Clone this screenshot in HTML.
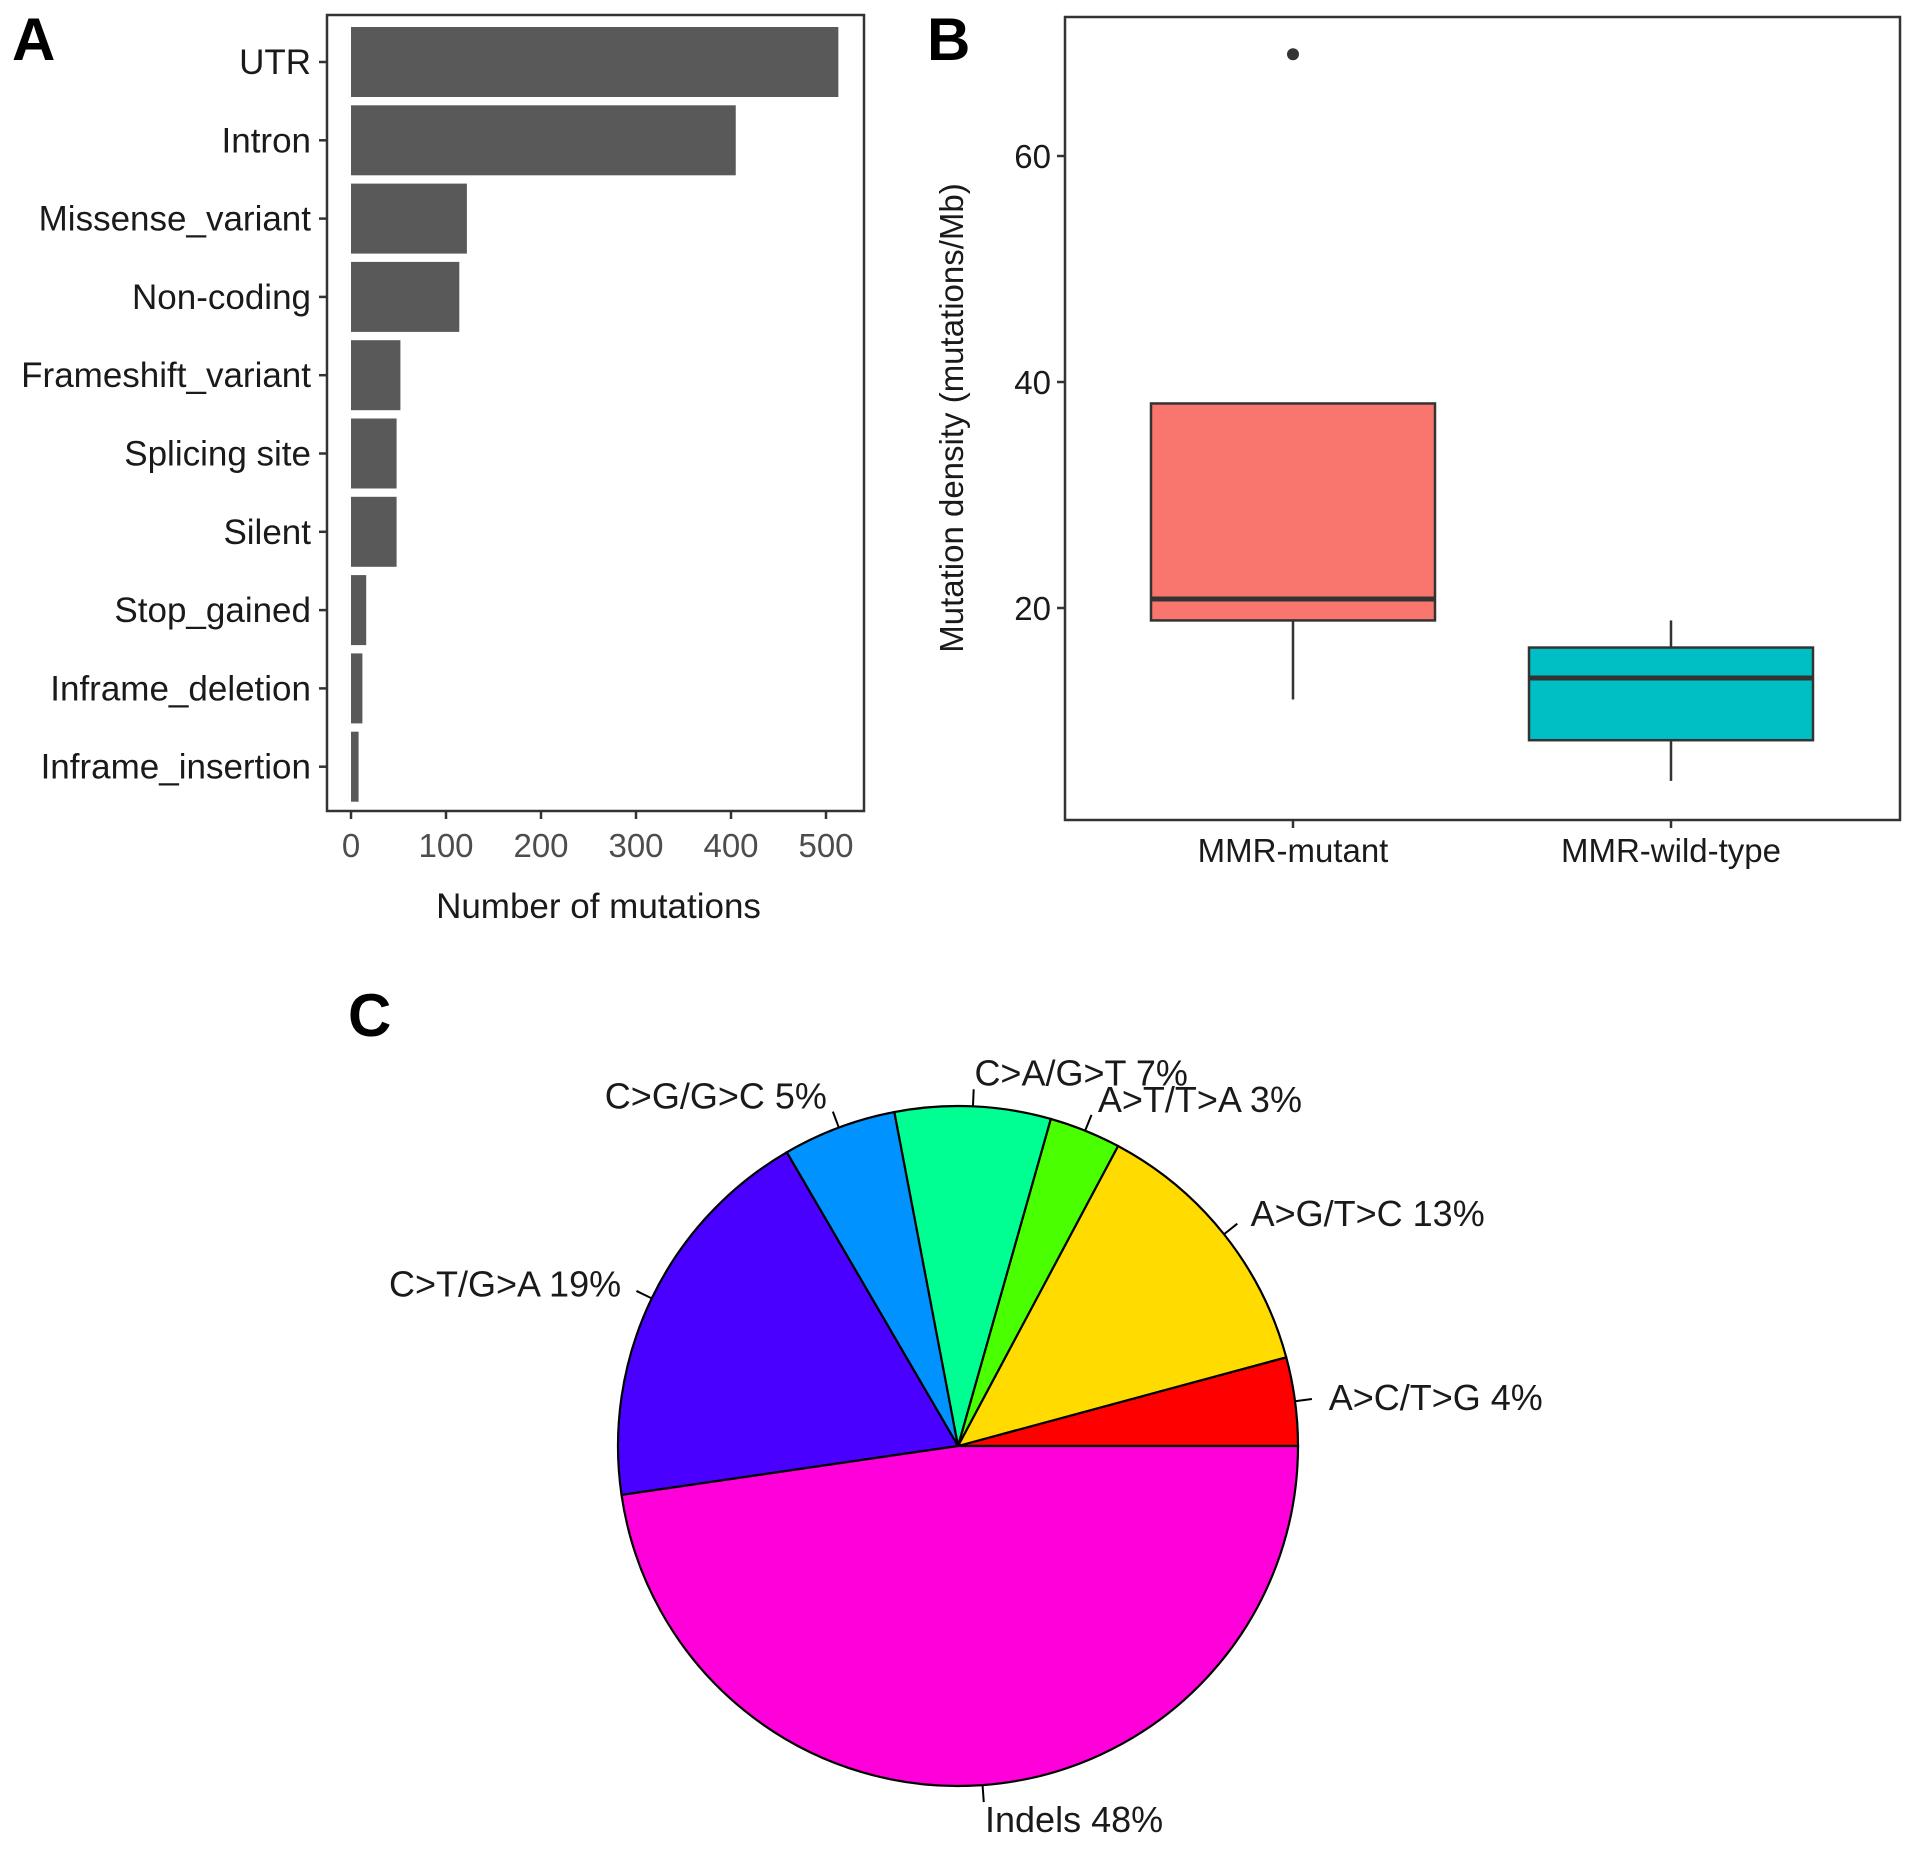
<!DOCTYPE html>
<html><head><meta charset="utf-8"><style>
html,body{margin:0;padding:0;background:#fff;}
svg{display:block;font-family:"Liberation Sans",sans-serif;}
</style></head><body>
<svg id="fig" width="1913" height="1851" viewBox="0 0 1913 1851" xmlns="http://www.w3.org/2000/svg">
<text x="12" y="60" font-size="60" font-weight="bold" fill="#000">A</text>
<text x="927" y="60" font-size="60" font-weight="bold" fill="#000">B</text>
<text x="348" y="1036" font-size="60" font-weight="bold" fill="#000">C</text>
<g id="barA"></g>
<g id="boxB"></g>
<g id="pieC"></g>
</svg>
<script>
const barCategories=["UTR","Intron","Missense_variant","Non-coding","Frameshift_variant","Splicing site","Silent","Stop_gained","Inframe_deletion","Inframe_insertion"];
const barValues=[513,405,122,114,52,48,48,16,12,8];
const barTicks=[0,100,200,300,400,500];

const boxGroups=["MMR-mutant","MMR-wild-type"];
const boxLower=[11.9,4.7];
const boxQ1=[18.9,8.3];
const boxMedian=[20.8,13.8];
const boxQ3=[38.1,16.5];
const boxUpper=[18.9,18.9];
const boxOutliers=[[69],[]];
const boxColors=["#F8766D","#00BFC4"];
const boxTicks=[20,40,60];

const pieLabels=["A>C/T>G 4%","A>G/T>C 13%","A>T/T>A 3%","C>A/G>T 7%","C>G/G>C 5%","C>T/G>A 19%","Indels 48%"];
const pieValues=[4.2,13,3.4,7.4,5.4,18.9,47.7];
const pieColors=["#FF0000","#FFDB00","#49FF00","#00FF92","#0092FF","#4900FF","#FF00DB"];

const NS="http://www.w3.org/2000/svg";
function mk(parent,tag,attrs,text){const e=document.createElementNS(NS,tag);for(const k in attrs)e.setAttribute(k,attrs[k]);if(text!==undefined)e.textContent=text;parent.appendChild(e);return e;}

// Panel A
(function(){
const g=document.getElementById('barA');
const L=327,R=864,T=15,B=811;
const x=v=>351+v*(826-351)/500;
const yc=i=>62+i*78.3;
const fr=mk(g,'rect',{x:L,y:T,width:R-L,height:B-T,fill:'none',stroke:'#333',"stroke-width":2.5});

barCategories.forEach((c,i)=>{
 const r=mk(g,'rect',{x:x(0),y:yc(i)-35,width:x(barValues[i])-x(0),height:70,fill:'#595959'});
 
 
 mk(g,'line',{x1:L-8,x2:L,y1:yc(i),y2:yc(i),stroke:'#333',"stroke-width":2.5});
 const t=mk(g,'text',{x:L-16,y:yc(i)+12,"text-anchor":"end","font-size":35,fill:'#1a1a1a'},c);
 
});
barTicks.forEach(v=>{
 mk(g,'line',{x1:x(v),x2:x(v),y1:B,y2:B+8,stroke:'#333',"stroke-width":2.5});
 const t=mk(g,'text',{x:x(v),y:B+46,"text-anchor":"middle","font-size":33,fill:'#4d4d4d'},v);
 
});
const at=mk(g,'text',{x:(L+R)/2+3,y:918,"text-anchor":"middle","font-size":35,fill:'#1a1a1a'},'Number of mutations');

})();

// Panel B
(function(){
const g=document.getElementById('boxB');
const L=1065,R=1900,T=17,B=820;
const y=v=>608-(v-20)*(608-382)/20;
const xc=i=>1293+i*(1671-1293);
const w=284;
const fr=mk(g,'rect',{x:L,y:T,width:R-L,height:B-T,fill:'none',stroke:'#333',"stroke-width":2.5});

boxGroups.forEach((grp,i)=>{
 const cx=xc(i);
 mk(g,'line',{x1:cx,x2:cx,y1:y(boxUpper[i]),y2:y(boxQ3[i]),stroke:'#333',"stroke-width":2.5});
 mk(g,'line',{x1:cx,x2:cx,y1:y(boxQ1[i]),y2:y(boxLower[i]),stroke:'#333',"stroke-width":2.5});
 const r=mk(g,'rect',{x:cx-w/2,y:y(boxQ3[i]),width:w,height:y(boxQ1[i])-y(boxQ3[i]),fill:boxColors[i],stroke:'#333',"stroke-width":2.5});
 
 
 mk(g,'line',{x1:cx-w/2,x2:cx+w/2,y1:y(boxMedian[i]),y2:y(boxMedian[i]),stroke:'#333',"stroke-width":5});
 boxOutliers[i].forEach(o=>{
  const c=mk(g,'circle',{cx:cx,cy:y(o),r:6,fill:'#333'});
  
 });
 mk(g,'line',{x1:cx,x2:cx,y1:B,y2:B+8,stroke:'#333',"stroke-width":2.5});
 const t=mk(g,'text',{x:cx,y:B+42,"text-anchor":"middle","font-size":33,fill:'#1a1a1a'},grp);
 
});
boxTicks.forEach(v=>{
 mk(g,'line',{x1:L-8,x2:L,y1:y(v),y2:y(v),stroke:'#333',"stroke-width":2.5});
 const t=mk(g,'text',{x:L-14,y:y(v)+12,"text-anchor":"end","font-size":33,fill:'#1a1a1a'},v);
 
});
const at=mk(g,'text',{x:0,y:0,"text-anchor":"middle","font-size":33,fill:'#1a1a1a',transform:'translate(963,418) rotate(-90)'},'Mutation density (mutations/Mb)');

})();

// Panel C
(function(){
const g=document.getElementById('pieC');
const cx=958,cy=1446,r=340;
const tot=pieValues.reduce((a,b)=>a+b,0);
let a0=0;
pieValues.forEach((v,i)=>{
 const a1=a0+v/tot*2*Math.PI;
 const p=(a)=>[cx+r*Math.cos(a),cy-r*Math.sin(a)];
 const [x0,y0]=p(a0),[x1,y1]=p(a1);
 const large=(a1-a0)>Math.PI?1:0;
 const s=mk(g,'path',{d:`M${cx},${cy} L${x0},${y0} A${r},${r} 0 ${large} 0 ${x1},${y1} Z`,fill:pieColors[i],stroke:'#000',"stroke-width":2.2});
 
 
 const am=(a0+a1)/2,c=Math.cos(am),sn=Math.sin(am);
 mk(g,'line',{x1:cx+r*c,y1:cy-r*sn,x2:cx+r*1.05*c,y2:cy-r*1.05*sn,stroke:'#000',"stroke-width":2});
 const lx=cx+r*1.1*c,ly=cy-r*1.1*sn;
 const t=mk(g,'text',{x:lx,y:ly+13,"text-anchor":c>0?'start':'end',"font-size":36,fill:'#1a1a1a'},pieLabels[i]);
 
 a0=a1;
});
})();
</script>
</body></html>
